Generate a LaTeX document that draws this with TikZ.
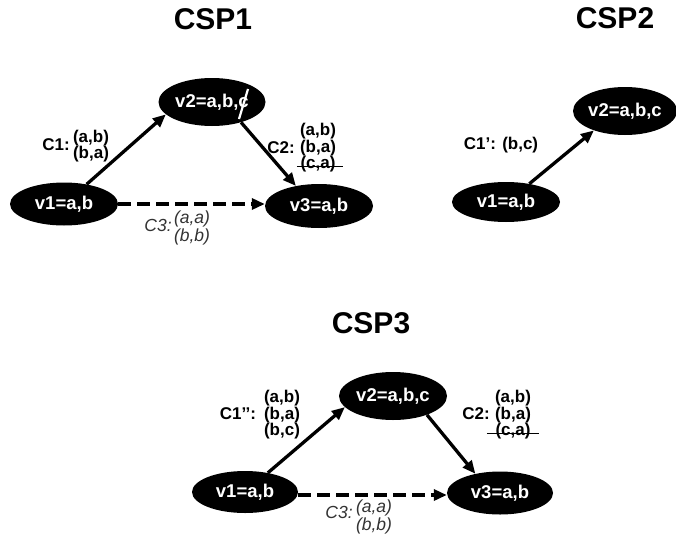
\documentclass[tikz,border=0pt]{standalone}
\usepackage{fontspec}
\setmainfont{Liberation Sans}
\usetikzlibrary{shapes.geometric,arrows.meta,calc}
\definecolor{weakgray}{HTML}{333333}
\begin{document}
\begin{tikzpicture}[x=1pt,y=-1pt,
  var/.style={ellipse, fill=black, text=white, inner sep=0pt,
    font=\fontsize{18.5}{18.5}\selectfont\bfseries},
  title/.style={inner sep=0pt, font=\fontsize{30}{30}\selectfont\bfseries},
  lbl/.style={inner sep=0pt, align=center, font=\fontsize{17}{16.5}\selectfont\bfseries},
  weak/.style={inner sep=0pt, align=center, text=weakgray,
    font=\fontsize{17.5}{16}\selectfont\itshape},
  link/.style={line width=3.3pt, -{Triangle[length=13pt,width=11pt]}},
  soft/.style={link, dash pattern=on 12.5pt off 6.5pt},
  strike/.style={line width=1.6pt},
  slash/.style={white, line width=2.2pt}]
\useasboundingbox (0,0) rectangle (676,538);

% ---------- CSP1 ----------
\node[title] (t1) at (213,19) {CSP1};
\node[var, minimum width=108pt, minimum height=43pt] (a1) at (64,204) {v1=a,b};
\node[var, minimum width=107pt, minimum height=48pt] (b1) at (212,102) {v2=a,b,c};
\node[var, minimum width=108pt, minimum height=44pt] (c1) at (319,206) {v3=a,b};
\draw[slash] ($(b1.center)+(36,-13)$) -- ($(b1.center)+(27,17)$);

\draw[link] (a1.41) -- (b1.195);
\draw[link] (b1.-35) -- (c1.139);
\draw[soft] (a1.east) -- (a1.east -| c1.west);

\node[lbl] (k1) at (56,145) {C1:};
\node[lbl] (s1) at (91,146) {(a,b)\\(b,a)};
\node[lbl] (k2) at (281,148) {C2:};
\node[lbl] (s2) at (318,148) {(a,b)\\(b,a)\\(c,a)};
\draw[strike] ([xshift=-3pt,yshift=6pt]s2.south west) -- ([xshift=7pt,yshift=6pt]s2.south east);
\node[weak] (k3) at (158,225) {C3:};
\node[weak] (s3) at (192,228) {(a,a)\\(b,b)};

% ---------- CSP2 ----------
\node[title] (t2) at (615,18) {CSP2};
\node[var, minimum width=108pt, minimum height=40pt] (a2) at (506,202) {v1=a,b};
\node[var, minimum width=102pt, minimum height=48pt] (b2) at (625,111) {v2=a,b,c};
\draw[link] (a2.38) -- (b2.212);
\node[lbl] (k4) at (501,145) {C1’: (b,c)};

% ---------- CSP3 ----------
\node[title] (t3) at (371,323) {CSP3};
\node[var, minimum width=106pt, minimum height=42pt] (a3) at (245,492) {v1=a,b};
\node[var, minimum width=108pt, minimum height=48pt] (b3) at (393,396) {v2=a,b,c};
\node[var, minimum width=106pt, minimum height=43pt] (c3) at (500,493) {v3=a,b};

\draw[link] (a3.40) -- (b3.193);
\draw[link] (b3.-29) -- (c3.142);
\draw[soft] ([yshift=-3pt]a3.east) -- ([yshift=-3pt]a3.east -| c3.west);

\node[lbl] (k5) at (238,414) {C1’’:};
\node[lbl] (s5) at (282,415) {(a,b)\\(b,a)\\(b,c)};
\node[lbl] (k6) at (476,414) {C2:};
\node[lbl] (s6) at (513,415) {(a,b)\\(b,a)\\(c,a)};
\draw[strike] ([xshift=-8pt,yshift=6pt]s6.south west) -- ([xshift=8pt,yshift=6pt]s6.south east);
\node[weak] (k7) at (339,512) {C3:};
\node[weak] (s7) at (374,517) {(a,a)\\(b,b)};
\end{tikzpicture}
\end{document}
